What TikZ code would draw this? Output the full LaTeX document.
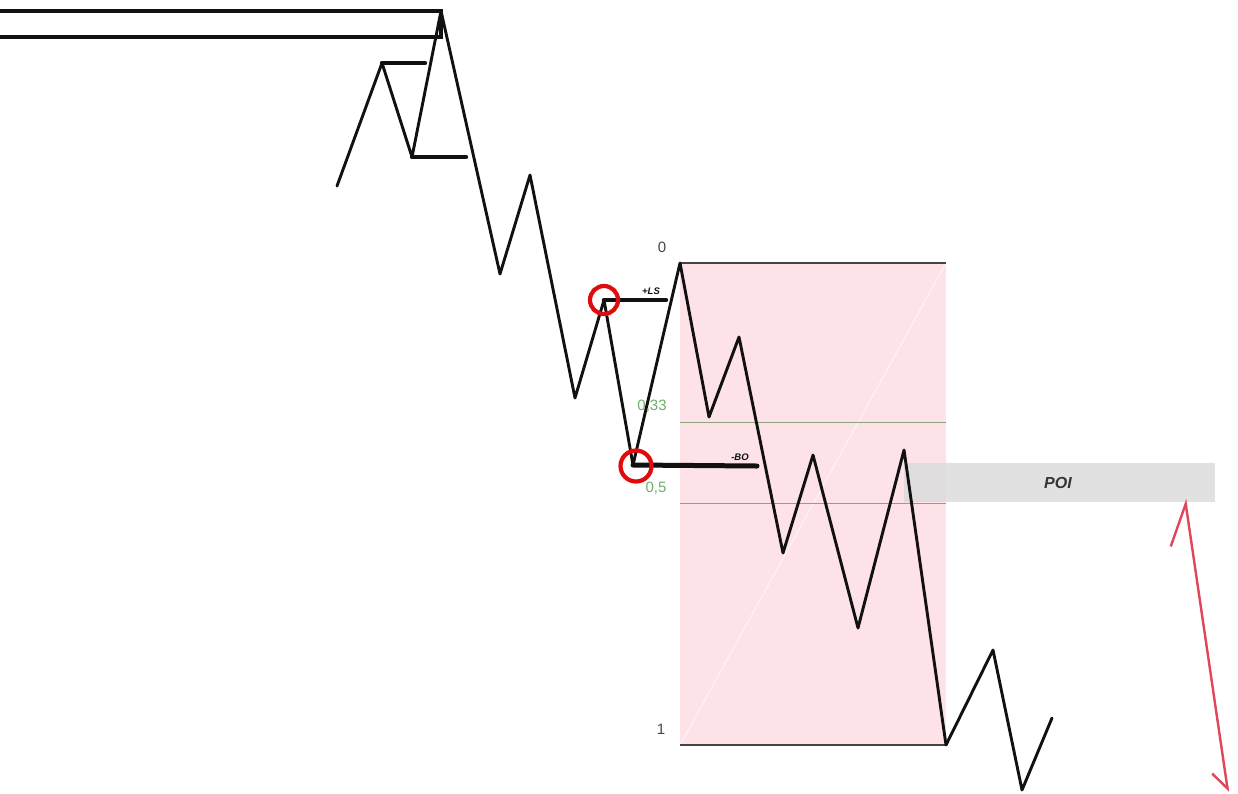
\documentclass[tikz,border=0pt]{standalone}
\usepackage{fontspec}
\setmainfont{Liberation Sans}
\usetikzlibrary{arrows.meta}
\definecolor{ink}{HTML}{111111}
\definecolor{zonepink}{HTML}{FDE2E7}
\definecolor{fibline}{HTML}{8FA37A}
\definecolor{fibtext}{HTML}{6DAF68}
\definecolor{levelgray}{HTML}{444444}
\definecolor{poigray}{HTML}{DCDCDC}
\definecolor{markred}{HTML}{E00B0B}
\definecolor{arrowred}{HTML}{E0455A}
\tikzset{
  swing/.style={draw=ink,line width=2.9pt,line join=round,line cap=round},
  level/.style={draw=ink,line width=4.4pt,line cap=round},
  rangebox/.style={draw=ink,line width=4.8pt,line join=miter},
  zone/.style={fill=zonepink,draw=none},
  zoneedge/.style={draw=levelgray,line width=1.4pt},
  fibrule/.style={draw=fibline,line width=0.9pt},
  fiblabel/.style={text=fibtext,font=\fontsize{15}{15}\selectfont,inner sep=0pt},
  numlabel/.style={text=levelgray,font=\fontsize{15}{15}\selectfont,inner sep=0pt},
  taglabel/.style={text=ink,font=\fontsize{9.5}{10}\selectfont\bfseries\itshape,inner sep=0pt},
  poibox/.style={fill=poigray,draw=none,fill opacity=0.85},
  poilabel/.style={text=ink!85,font=\fontsize{16}{16}\selectfont\bfseries\itshape,inner sep=0pt},
  sweepring/.style={draw=markred,line width=4.2pt},
  poiarrow/.style={draw=arrowred,line width=2.4pt,
    {Straight Barb[left,length=40pt,width=42pt]}-{Straight Barb[right,length=17pt,width=26pt]}}
}

\begin{document}
\begin{tikzpicture}[x=1pt,y=-1pt]
  \path[use as bounding box] (0,0) rectangle (1238,793);

  % swing points
  \coordinate (s0) at (337,186);
  \coordinate (h1) at (382,63);
  \coordinate (l1) at (412,157);
  \coordinate (top) at (441,11);
  \coordinate (l2) at (500,274);
  \coordinate (h2) at (530,175);
  \coordinate (l3) at (575,398);
  \coordinate (ls) at (604,300);
  \coordinate (bo) at (633,465);
  \coordinate (zero) at (680,263);
  \coordinate (l4) at (709,417);
  \coordinate (h4) at (739,337);
  \coordinate (l5) at (783,553);
  \coordinate (h5) at (813,455);
  \coordinate (l6) at (858,628);
  \coordinate (h6) at (904,450);
  \coordinate (one) at (946,745);
  \coordinate (h7) at (993,650);
  \coordinate (l7) at (1022,790);
  \coordinate (s1) at (1052,718);

  % premium zone
  \path[zone] (zero) rectangle (one);
  \draw[white,line width=1pt,opacity=0.6] (zero |- one) -- (one |- zero);
  \draw[fibrule] (680,422) -- (946,422);
  \draw[fibrule] (680,503) -- (946,503);
  \draw[zoneedge] (zero) -- (one |- zero);
  \draw[zoneedge] (zero |- one) -- (one);

  % point of interest
  \path[poibox] (904,463) rectangle (1215,502);
  \node[poilabel] (poi) at (1058,483) {POI};

  % old range
  \draw[rangebox] (0,11) -- (441,11) -- (441,37) -- (0,37);

  % price path
  \draw[swing] (s0) -- (h1) -- (l1) -- (top) -- (l2) -- (h2) -- (l3) -- (ls)
    -- (bo) -- (zero) -- (l4) -- (h4) -- (l5) -- (h5) -- (l6) -- (h6)
    -- (one) -- (h7) -- (l7) -- (s1);

  % levels
  \draw[level] (h1) -- (425,63);
  \draw[level] (l1) -- (466,157);
  \draw[level] (ls) -- (666,300);
  \draw[level,line width=5pt] (bo) -- (757,466);
  \node[taglabel] (lstag) at (651,291) {+LS};
  \node[taglabel] (botag) at (740,457) {-BO};

  % sweeps
  \draw[sweepring] (ls) circle[radius=14];
  \draw[sweepring] (636,466) circle[radius=15.5];

  % fib labels
  \node[numlabel] (fib0) at (662,247) {0};
  \node[numlabel] (fib1) at (661,729) {1};
  \node[fiblabel] (fib33) at (652,406) {0,33};
  \node[fiblabel] (fib50) at (656,488) {0,5};

  % target move
  \coordinate (arrtop) at (1185,499);
  \coordinate (arrbot) at (1228,792);
  \draw[poiarrow] (arrtop) -- (arrbot);
\end{tikzpicture}
\end{document}
